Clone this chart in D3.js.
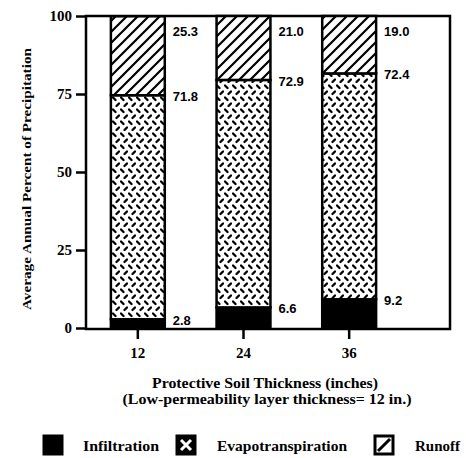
<!DOCTYPE html>
<html>
<head>
<meta charset="utf-8">
<script src="https://cdn.jsdelivr.net/npm/d3@7"></script>
<style>
  body { margin: 0; background: #fff; }
  svg text { font-family: "Liberation Serif", "Times New Roman", serif; font-weight: bold; fill: #000; }
  .val { font-family: "Liberation Sans", Arial, sans-serif; font-size: 13px; }
</style>
</head>
<body>
<div id="chart"></div>
<script>
/* DATA */
const thickness = ["12", "24", "36"];
const infiltration = [2.8, 6.6, 9.2];
const evapotranspiration = [71.8, 72.9, 72.4];
const runoff = [25.3, 21.0, 19.0];
const yTicks = [0, 25, 50, 75, 100];
const seriesNames = ["Infiltration", "Evapotranspiration", "Runoff"];

const width = 466, height = 458;
const margin = { top: 16, left: 86, right: 16, bottom: 130 };
const plotBottom = height - margin.bottom; // 328

const svg = d3.select("#chart").append("svg")
  .attr("width", width)
  .attr("height", height);

// patterns
const defs = svg.append("defs");
const hatch = defs.append("pattern")
  .attr("id", "hatch")
  .attr("patternUnits", "userSpaceOnUse")
  .attr("width", 11).attr("height", 11);
hatch.append("rect").attr("width", 11).attr("height", 11).attr("fill", "#fff");
hatch.append("path")
  .attr("d", "M-1,12 L12,-1 M-3,3 L3,-3 M8,14 L14,8")
  .attr("stroke", "#000").attr("stroke-width", 2.2);

// diamond-plate style dashes
const plate = defs.append("pattern")
  .attr("id", "plate")
  .attr("patternUnits", "userSpaceOnUse")
  .attr("width", 8).attr("height", 12);
plate.append("rect").attr("width", 8).attr("height", 12).attr("fill", "#fff");
plate.append("path")
  .attr("d", "M1,1.5 L3.5,4 M4.5,10 L7,7.5")
  .attr("stroke", "#000").attr("stroke-width", 2.3).attr("stroke-linecap", "round");

/* SCALES */
const yScale = d3.scaleLinear()
  .domain([0, 100])
  .range([plotBottom, margin.top]);

const xScale = d3.scaleBand()
  .domain(thickness)
  .range([85, 402])
  .paddingInner(0.49)
  .paddingOuter(0.245);

// stacked data
const rows = thickness.map((t, i) => ({
  t,
  Infiltration: infiltration[i],
  Evapotranspiration: evapotranspiration[i],
  Runoff: runoff[i]
}));
const stack = d3.stack().keys(seriesNames)(rows);
const fills = { Infiltration: "#000", Evapotranspiration: "url(#plate)", Runoff: "url(#hatch)" };

// plot frame
svg.append("rect")
  .attr("x", 86).attr("y", margin.top)
  .attr("width", width - margin.right - 86)
  .attr("height", plotBottom - margin.top + 1)
  .attr("fill", "#fff")
  .attr("stroke", "#000").attr("stroke-width", 2.5);

/* BARS */
svg.append("g").selectAll("g")
  .data(stack)
  .join("g")
  .attr("fill", d => fills[d.key])
  .selectAll("rect")
  .data(d => d)
  .join("rect")
  .attr("x", d => xScale(d.data.t))
  .attr("width", xScale.bandwidth())
  .attr("y", d => yScale(Math.min(100, d[1])))
  .attr("height", d => yScale(d[0]) - yScale(Math.min(100, d[1])))
  .attr("stroke", "#000").attr("stroke-width", 2.5);

/* VALUE LABELS */
const labels = [];
thickness.forEach((t, i) => {
  labels.push({ t, v: infiltration[i], y: infiltration[i] });
  labels.push({ t, v: evapotranspiration[i], y: infiltration[i] + evapotranspiration[i] });
  labels.push({ t, v: runoff[i], y: 100 });
});
svg.append("g").selectAll("text")
  .data(labels)
  .join("text")
  .attr("class", "val")
  .attr("x", d => xScale(d.t) + xScale.bandwidth() + 8)
  .attr("y", d => yScale(d.y) + (d.y === 100 ? 20 : 6))
  .text(d => d.v.toFixed(1));

/* AXES */
const yAxis = svg.append("g")
  .attr("transform", `translate(86,0)`)
  .call(d3.axisLeft(yScale).tickValues(yTicks).tickSize(10).tickPadding(4));
yAxis.select(".domain").remove();
yAxis.selectAll("line").attr("stroke-width", 2.5);
yAxis.selectAll("text")
  .style("font-family", "'Liberation Serif', serif")
  .style("font-weight", "bold")
  .style("font-size", "15px");

const xAxis = svg.append("g")
  .attr("transform", `translate(0,${plotBottom + 1})`)
  .call(d3.axisBottom(xScale).tickSize(10).tickPadding(8));
xAxis.select(".domain").remove();
xAxis.selectAll("line").attr("stroke-width", 2.5);
xAxis.selectAll("text")
  .style("font-family", "'Liberation Serif', serif")
  .style("font-weight", "bold")
  .style("font-size", "15px");

/* TITLES */
svg.append("text")
  .attr("transform", "translate(31,179) rotate(-90)")
  .attr("text-anchor", "middle")
  .style("font-size", "12px")
  .attr("textLength", 262).attr("lengthAdjust", "spacingAndGlyphs")
  .text("Average Annual Percent of Precipitation");

svg.append("text")
  .attr("x", 265).attr("y", 388)
  .attr("text-anchor", "middle")
  .style("font-size", "14px")
  .attr("textLength", 226).attr("lengthAdjust", "spacingAndGlyphs")
  .text("Protective Soil Thickness (inches)");

svg.append("text")
  .attr("x", 267).attr("y", 404)
  .attr("text-anchor", "middle")
  .style("font-size", "14px")
  .attr("textLength", 289).attr("lengthAdjust", "spacingAndGlyphs")
  .text("(Low-permeability layer thickness= 12 in.)");

/* LEGEND */
const legend = svg.append("g").attr("transform", "translate(0,436)");
const legendItems = [
  { name: "Infiltration", box: 44, text: 83, len: 76 },
  { name: "Evapotranspiration", box: 177, text: 217, len: 130 },
  { name: "Runoff", box: 375, text: 415, len: 45 }
];
const li = legend.selectAll("g").data(legendItems).join("g");
li.append("rect")
  .attr("x", d => d.box).attr("y", 0)
  .attr("width", 18).attr("height", 18)
  .attr("fill", d => d.name === "Runoff" ? "#fff" : "#000")
  .attr("stroke", "#000").attr("stroke-width", 3);
// small icons inside the legend boxes
li.filter(d => d.name === "Evapotranspiration").append("path")
  .attr("d", d => `M${d.box + 4},${4} L${d.box + 14},${14} M${d.box + 14},${4} L${d.box + 4},${14}`)
  .attr("stroke", "#fff").attr("stroke-width", 3);
li.filter(d => d.name === "Runoff").append("path")
  .attr("d", d => `M${d.box + 3},${15} L${d.box + 15},${3}`)
  .attr("stroke", "#000").attr("stroke-width", 3);
li.append("text")
  .attr("x", d => d.text).attr("y", 15)
  .style("font-size", "14px")
  .attr("textLength", d => d.len).attr("lengthAdjust", "spacingAndGlyphs")
  .text(d => d.name);
</script>
</body>
</html>
